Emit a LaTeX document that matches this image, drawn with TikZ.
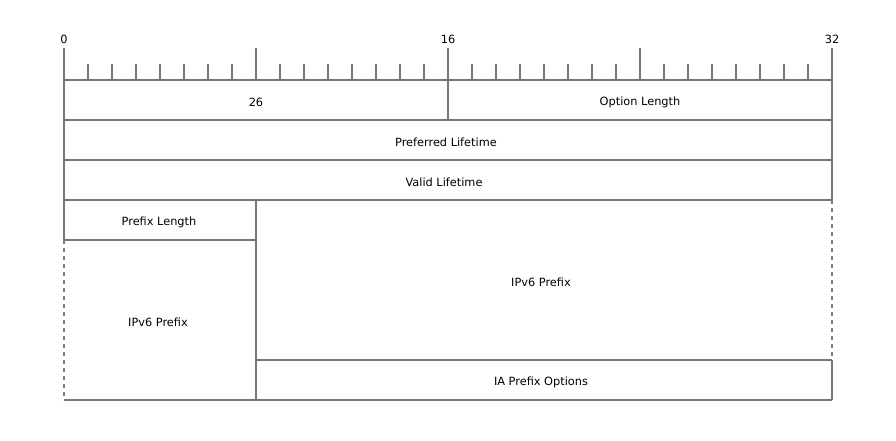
\documentclass[tikz,border=0pt]{standalone}
\usepackage{fontspec}
\setmainfont{DejaVu Sans}
\definecolor{rulegray}{HTML}{777777}
\tikzset{
  field/.style={font=\fontsize{8.5}{10}\selectfont, inner sep=0pt},
  edge/.style={draw=rulegray, line width=1pt},
  open/.style={edge, dash pattern=on 3pt off 3pt}
}
\begin{document}
\begin{tikzpicture}[x=0.75pt,y=-0.75pt]
\useasboundingbox (0,0) rectangle (896,440);

% bit ruler
\foreach \b in {0,...,32} {
  \pgfmathsetmacro{\xb}{64+24*\b}
  \ifnum\numexpr\b-8*(\b/8)\relax=0
    \draw [edge] (\xb,48) -- (\xb,80);
  \else
    \draw [edge] (\xb,64) -- (\xb,80);
  \fi
}
\node (b0) at (64,39) [field] {0};
\node (b16) at (448,39) [field] {16};
\node (b32) at (832,39) [field] {32};

% rows
\draw [edge] (64,80) -- (832,80);
\draw [edge] (64,120) -- (832,120);
\draw [edge] (64,160) -- (832,160);
\draw [edge] (64,200) -- (832,200);
\draw [edge] (64,240) -- (256,240);
\draw [edge] (256,360) -- (832,360);
\draw [edge] (64,400) -- (832,400);

% columns
\draw [edge] (64,80) -- (64,240);
\draw [open] (64,240) -- (64,400);
\draw [edge] (832,80) -- (832,200);
\draw [open] (832,200) -- (832,360);
\draw [edge] (832,360) -- (832,400);
\draw [edge] (448,80) -- (448,120);
\draw [edge] (256,200) -- (256,400);

% field labels
\node (code) at (256,102.5) [field] {26};
\node (optlen) at (640,102.5) [field] {Option Length};
\node (pref) at (446,142.5) [field] {Preferred Lifetime};
\node (valid) at (444,182.5) [field] {Valid Lifetime};
\node (plen) at (159,222.5) [field] {Prefix Length};
\node (prefixa) at (541,282.5) [field] {IPv6 Prefix};
\node (prefixb) at (158,322.5) [field] {IPv6 Prefix};
\node (opts) at (541,382.5) [field] {IA Prefix Options};
\end{tikzpicture}
\end{document}
